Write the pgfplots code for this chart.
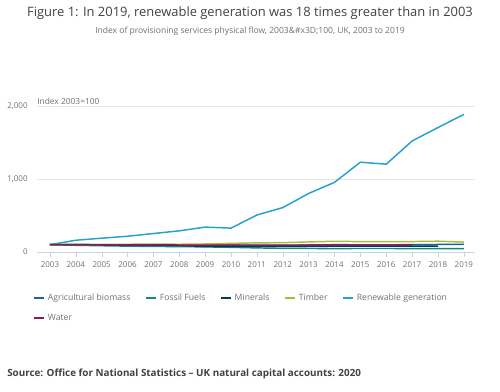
\documentclass[border=0pt]{standalone}
\usepackage{pgfplots}
\pgfplotsset{compat=1.18}
\usepackage{fontspec}
\setmainfont{Open Sans}
\definecolor{agri}{HTML}{206095}
\definecolor{fossil}{HTML}{118C7B}
\definecolor{minerals}{HTML}{003C57}
\definecolor{timber}{HTML}{A8BD3A}
\definecolor{renew}{HTML}{27A0CC}
\definecolor{water}{HTML}{871A5B}
\definecolor{titlegray}{HTML}{414042}
\definecolor{subgray}{HTML}{707071}
\definecolor{gridgray}{HTML}{E5E6E7}
\definecolor{axisgray}{HTML}{C8D3E6}
\begin{document}
\begin{tikzpicture}
\begin{scope}[x=0.75pt,y=0.75pt]
\path[use as bounding box] (0,0) rectangle (500,392);
\node[font=\fontsize{9.7}{11}\selectfont, text=titlegray] at (250,379) {Figure 1: In 2019, renewable generation was 18 times greater than in 2003};
\node[font=\fontsize{6.4}{7}\selectfont, text=subgray] at (250,361) {Index of provisioning services physical flow, 2003\&\#x3D;100, UK, 2003 to 2019};
\node[font=\fontsize{6.3}{7}\selectfont, text=subgray, anchor=west, inner sep=0pt] at (37,291) {Index 2003=100};
\node[font=\bfseries\fontsize{7.4}{8}\selectfont, text=titlegray, anchor=west, inner sep=0pt] at (7,18) {Source: Office for National Statistics – UK natural capital accounts: 2020};
\end{scope}
\begin{axis}[
  at={(27.75pt,105pt)}, anchor=south west,
  scale only axis, width=328.5pt, height=109.5pt,
  xmin=2002.5, xmax=2019.43, ymin=0, ymax=2000,
  axis lines*=left,
  y axis line style={draw=none},
  x axis line style={draw=axisgray},
  xtick={2003,...,2019},
  ytick={0,1000,2000},
  xticklabel style={/pgf/number format/1000 sep={}},
  yticklabel style={/pgf/number format/1000 sep={,}},
  /pgf/number format/assume math mode=true,
  ticklabel style={font=\fontsize{6}{7}\selectfont, text=subgray},
  tick align=outside,
  xtick style={draw=axisgray},
  ytick style={draw=none},
  major tick length=3.5pt,
  ymajorgrids, grid style={draw=gridgray},
  clip=false,
  legend cell align=left,
  legend style={at={(-0.009,-0.265)}, anchor=north west, draw=none, fill=none,
    font=\fontsize{6.5}{8}\selectfont, text=subgray, legend columns=5,
    /tikz/every even column/.append style={column sep=9pt},
    inner sep=0pt, row sep=5pt},
  legend image code/.code={\draw[#1, line width=1.5pt] (0pt,0pt) -- (7.5pt,0pt);},
  every axis plot/.append style={line width=1.1pt, line join=round},
]
\addplot[agri] coordinates {(2003,100)(2004,98)(2005,97)(2006,95)(2007,94)(2008,93)(2009,92)(2010,95)(2011,96)(2012,94)(2013,96)(2014,100)(2015,99)(2016,99)(2017,100)(2018,103)(2019,106)};
\addlegendentry{Agricultural biomass}
\addplot[fossil] coordinates {(2003,100)(2004,92)(2005,86)(2006,80)(2007,76)(2008,74)(2009,70)(2010,64)(2011,56)(2012,50)(2013,48)(2014,47)(2015,48)(2016,48)(2017,47)(2018,46)(2019,46)};
\addlegendentry{Fossil Fuels}
\addplot[minerals] coordinates {(2003,100)(2004,100)(2005,99)(2006,97)(2007,96)(2008,90)(2009,76)(2010,76)(2011,78)(2012,76)(2013,77)(2014,79)(2015,80)(2016,80)(2017,80)(2018,80)};
\addlegendentry{Minerals}
\addplot[timber] coordinates {(2003,100)(2004,105)(2005,106)(2006,106)(2007,108)(2008,106)(2009,110)(2010,118)(2011,125)(2012,128)(2013,138)(2014,147)(2015,142)(2016,142)(2017,143)(2018,148)(2019,136)};
\addlegendentry{Timber}
\addplot[renew] coordinates {(2003,100)(2004,161)(2005,189)(2006,216)(2007,253)(2008,290)(2009,341)(2010,327)(2011,507)(2012,608)(2013,802)(2014,954)(2015,1230)(2016,1203)(2017,1521)(2018,1705)(2019,1885)};
\addlegendentry{Renewable generation}
\addplot[water] coordinates {(2003,100)(2004,100)(2005,99)(2006,98)(2007,97)(2008,96)(2009,94)(2010,93)(2011,92)(2012,92)(2013,93)(2014,94)(2015,94)(2016,94)(2017,95)};
\addlegendentry{Water}
\end{axis}
\end{tikzpicture}
\end{document}
